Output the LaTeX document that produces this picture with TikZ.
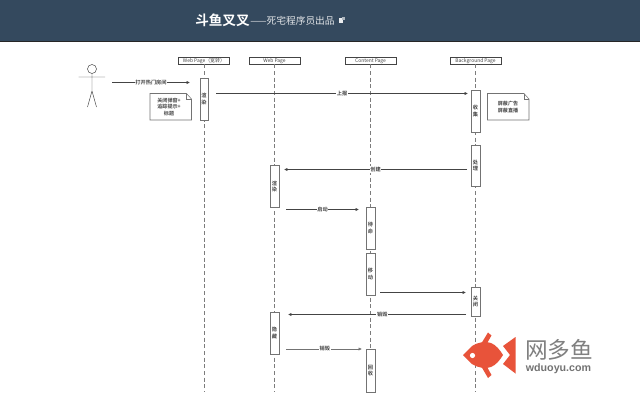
\documentclass[tikz,border=0pt]{standalone}
\usepackage{fontspec}
\setmainfont{Liberation Sans}
\newfontfamily\cjk{Noto Sans CJK SC}
\newfontfamily\cjkb{Noto Sans CJK SC Bold}
\usetikzlibrary{arrows.meta}
\definecolor{hdr}{HTML}{34495E}
\definecolor{fish}{HTML}{E8533A}
\definecolor{seq}{HTML}{444444}
\tikzset{
  head/.style={draw=seq,line width=.35pt,fill=white,minimum width=38pt,minimum height=5.4pt,inner sep=0pt,text height=3.3pt,text depth=.5pt,font=\fontsize{3.7}{4}\selectfont\cjk,text=seq},
  act/.style={draw=seq!75,line width=.35pt,fill=white,minimum width=6.4pt,inner sep=0pt,font=\fontsize{3.9}{5}\selectfont\cjkb,align=center,text=seq},
  life/.style={draw=seq!70,line width=.3pt,densely dashed},
  msg/.style={draw=seq,line width=.4pt,-{Latex[length=2.6pt,width=2.4pt]}},
  lab/.style={fill=white,inner sep=.5pt,font=\fontsize{3.9}{4.6}\selectfont\cjkb,text=seq},
  note/.style={draw=seq!75,line width=.4pt,fill=white},
  notetext/.style={font=\fontsize{3.8}{4.8}\selectfont\cjkb,align=center,text=seq,inner sep=0pt},
}
\begin{document}
\begin{tikzpicture}[x=.75pt,y=-.75pt]
\useasboundingbox (0,0) rectangle (640,400);
\fill[white] (0,0) rectangle (640,400);
\fill[hdr] (0,0) rectangle (640,41);
\draw[black!85,line width=.5pt] (0,41.2) -- (640,41.2);
\node[anchor=west,inner sep=0pt,text=white,font=\fontsize{10.2}{12}\selectfont\cjkb] (title) at (195,20) {斗鱼叉叉};
\node[anchor=west,inner sep=0pt,text=white!85!hdr,font=\fontsize{7.3}{8}\selectfont\cjk] (sub) at (250,21) {——死宅程序员出品};
\fill[white!90!hdr] (339,18) rectangle (343,23);
\fill[white!60!hdr] (342,17) rectangle (345,20);

% lifeline heads
\node[head] (h1) at (204,60.5) {Web Page（宽转）};
\node[head] (h2) at (274.5,60.5) {Web Page};
\node[head] (h3) at (370.5,60.5) {Content Page};
\node[head] (h4) at (475.5,60.5) {Background Page};
\coordinate (e1) at (204,392);
\coordinate (e2) at (274.5,392);
\coordinate (e3) at (370.5,392);
\coordinate (e4) at (475.5,392);
\draw[life] (h1) -- (e1);
\draw[life] (h2) -- (e2);
\draw[life] (h3) -- (e3);
\draw[life] (h4) -- (e4);

% logo
\fill[fish] (463,355) -- (472,346) .. controls (478,342) and (486,341) .. (491,343) .. controls (496,345) and (500,350) .. (503,355) .. controls (500,360) and (496,365) .. (491,367) .. controls (486,369) and (478,368) .. (472,364) -- cycle;
\fill[fish] (481,344) -- (488,332.5) -- (491.5,335.5) -- (486,345) -- cycle;
\fill[fish] (481,366) -- (488,378) -- (491.5,375) -- (486,365) -- cycle;
\fill[fish] (515.5,337) -- (515.5,373.5) -- (503,364) -- (510,355) -- (503,346) -- cycle;
\fill[white] (472.5,355.5) circle (2.6);
\node[inner sep=0pt,text=black!50,font=\fontsize{17}{18}\selectfont\cjk] (wdy) at (559,349.5) {网多鱼};
\node[inner sep=0pt,text=black!55,font=\fontsize{8}{9}\selectfont\bfseries] (url) at (558.5,369) {wduoyu.com};

% actor
\draw[seq,line width=.35pt,fill=white] (92,69) circle (4.5) coordinate (ah);
\draw[seq,line width=.35pt] (92,73.5) -- (92,91) coordinate (hip) (78.5,77) -- (105,77) (hip) -- (87.5,107) (hip) -- (96.5,107);

% activations
\node[act,minimum height=31.5pt] (a1) at (204,99) {渲\\染};
\node[act,minimum height=31.5pt] (a2) at (475.5,111) {收\\集};
\node[act,minimum height=31pt] (a3) at (475.5,165.5) {处\\理};
\node[act,minimum height=31.5pt] (a4) at (274.5,186.5) {渲\\染};
\node[act,minimum height=31.5pt] (a5) at (370.5,228) {待\\命};
\node[act,minimum height=31.5pt] (a6) at (370.5,274) {移\\动};
\node[act,minimum height=22pt] (a7) at (475.5,301.5) {关\\闭};
\node[act,minimum height=31.5pt] (a8) at (274.5,333) {隐\\藏};
\node[act,minimum height=32pt] (a9) at (370.5,370.5) {回\\收};

% notes
\path[note] (150,93.5) -- (186.5,93.5) -- (191.5,99) -- (191.5,120) -- (150,120) -- cycle;
\draw[seq!75,line width=.3pt] (186.5,93.5) -- (186.5,99) -- (191.5,99);
\node[notetext] (n1) at (169,107) {关闭弹窗+\\追踪提示+\\标题};
\path[note] (487.5,93.5) -- (524,93.5) -- (529,99) -- (529,120) -- (487.5,120) -- cycle;
\draw[seq!75,line width=.3pt] (524,93.5) -- (524,99) -- (529,99);
\node[notetext] (n2) at (508,107) {屏蔽广告\\屏蔽直播};

% messages
\coordinate (m1s) at (112,82.5); \coordinate (m1e) at (190,82.5);
\draw[msg] (m1s) -- node[lab]{打开热门房间} (m1e);
\coordinate (m2s) at (216,93.5); \coordinate (m2e) at (468,93.5);
\draw[msg] (m2s) -- node[lab,pos=.5]{上报} (m2e);
\coordinate (m3s) at (467,169.5); \coordinate (m3e) at (284,169.5);
\draw[msg] (m3s) -- node[lab,pos=.5]{创建} (m3e);
\coordinate (m4s) at (286,209.5); \coordinate (m4e) at (359,209.5);
\draw[msg] (m4s) -- node[lab]{启动} (m4e);
\coordinate (m5s) at (380,292.5); \coordinate (m5e) at (466,292.5);
\draw[msg] (m5s) -- (m5e);
\coordinate (m6s) at (466,314.5); \coordinate (m6e) at (288,314.5);
\draw[msg] (m6s) -- node[lab,pos=.47]{销毁} (m6e);
\coordinate (m7s) at (286,349); \coordinate (m7e) at (362,349);
\draw[msg,draw=seq!75] (m7s) -- node[lab,pos=.51]{销毁} (m7e);
\end{tikzpicture}
\end{document}
